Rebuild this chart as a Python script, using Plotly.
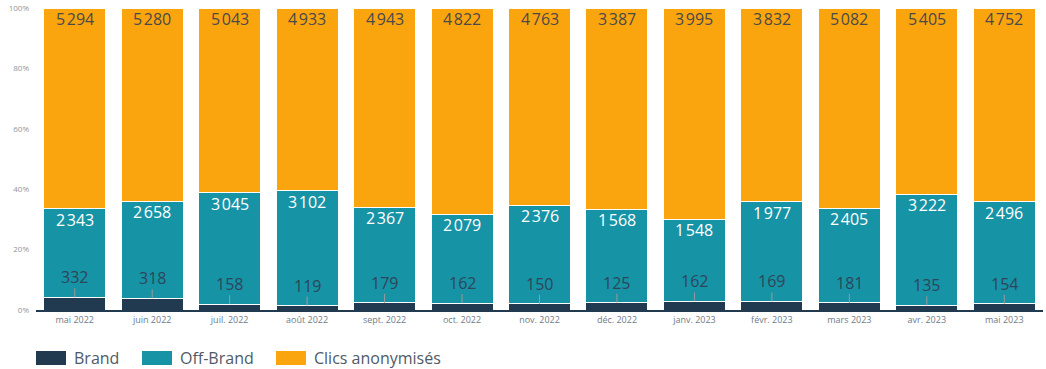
import plotly.graph_objects as go

months = ["mai 2022", "juin 2022", "juil. 2022", "août 2022", "sept. 2022", "oct. 2022",
          "nov. 2022", "déc. 2022", "janv. 2023", "févr. 2023", "mars 2023", "avr. 2023", "mai 2023"]
brand = [332, 318, 158, 119, 179, 162, 150, 125, 162, 169, 181, 135, 154]
off_brand = [2343, 2658, 3045, 3102, 2367, 2079, 2376, 1568, 1548, 1977, 2405, 3222, 2496]
clics = [5294, 5280, 5043, 4933, 4943, 4822, 4763, 3387, 3995, 3832, 5082, 5405, 4752]

series_names = ["Brand", "Off-Brand", "Clics anonymisés"]
colors = ["#223a50", "#1793a6", "#fba50e"]

W, H = 1046, 369
ML, MR, MT, MB = 36, 3, 8, 59
FONT = "Open Sans"


def fmt(v):
    s = f"{v:,}".replace(",", "\u200a")
    return s


fig = go.Figure()
for name, vals, col in zip(series_names, [brand, off_brand, clics], colors):
    fig.add_trace(go.Bar(
        x=months, y=vals, name=name,
        marker=dict(color=col, line=dict(color="white", width=1)),
        hoverinfo="x+y+name", showlegend=False,
    ))

annotations = []
shapes = []
for i, m in enumerate(months):
    tot = brand[i] + off_brand[i] + clics[i]
    pb = brand[i] / tot * 100
    po = (brand[i] + off_brand[i]) / tot * 100
    # Clics label near top
    annotations.append(dict(x=m, y=100, xref="x", yref="y", text=fmt(clics[i]), showarrow=False,
                            yshift=-11, font=dict(family=FONT, size=16, color="#4a4a4a")))
    # Off-Brand label near top of teal segment
    annotations.append(dict(x=m, y=po, xref="x", yref="y", text=fmt(off_brand[i]), showarrow=False,
                            yshift=-11, font=dict(family=FONT, size=16, color="white")))
    # Brand label above with leader line
    annotations.append(dict(x=m, y=pb, xref="x", yref="y", text=fmt(brand[i]), showarrow=False,
                            yshift=20, font=dict(family=FONT, size=16, color="#2d4659")))
    shapes.append(dict(type="line", xref="x", yref="y", x0=m, x1=m,
                       ysizemode="pixel", yanchor=pb, y0=0, y1=9,
                       line=dict(color="#9a9a9a", width=1)))

# Custom legend
pw = W - ML - MR
ph = H - MT - MB


def px2x(px):
    return (px - ML) / pw


def py2y(py):
    return (H - MB - py) / ph


legend_items = [(36, 72), (142, 178), (276, 312)]
for (sx, tx), name, col in zip(legend_items, series_names, colors):
    shapes.append(dict(type="rect", xref="paper", yref="paper",
                       x0=px2x(sx), x1=px2x(sx + 30), y0=py2y(365), y1=py2y(351),
                       fillcolor=col, line=dict(width=0)))
    annotations.append(dict(x=px2x(tx), y=py2y(358), xref="paper", yref="paper", text=name,
                            showarrow=False, xanchor="left", yanchor="middle",
                            font=dict(family=FONT, size=16, color="#4f5a66")))

fig.update_layout(
    width=W, height=H,
    margin=dict(l=ML, r=MR, t=MT, b=MB),
    barmode="stack", barnorm="percent", bargap=0.2,
    plot_bgcolor="white", paper_bgcolor="white",
    font=dict(family=FONT),
    annotations=annotations, shapes=shapes,
    xaxis=dict(showgrid=False, showline=True, linecolor="#223a50", linewidth=1.5,
               ticks="", tickfont=dict(family=FONT, size=9, color="#6f7b88"),
               fixedrange=True),
    yaxis=dict(range=[0, 100], showgrid=False, zeroline=False, showline=False,
               tickvals=[0, 20, 40, 60, 80, 100], ticktext=["0%", "20%", "40%", "60%", "80%", "100%"],
               tickfont=dict(family=FONT, size=8, color="#8a96a3"), ticklabelstandoff=6,
               fixedrange=True),
)

fig.write_html("out.html", config={"displayModeBar": False},
               post_script="document.body.style.margin='0';document.body.style.overflow='hidden';")
